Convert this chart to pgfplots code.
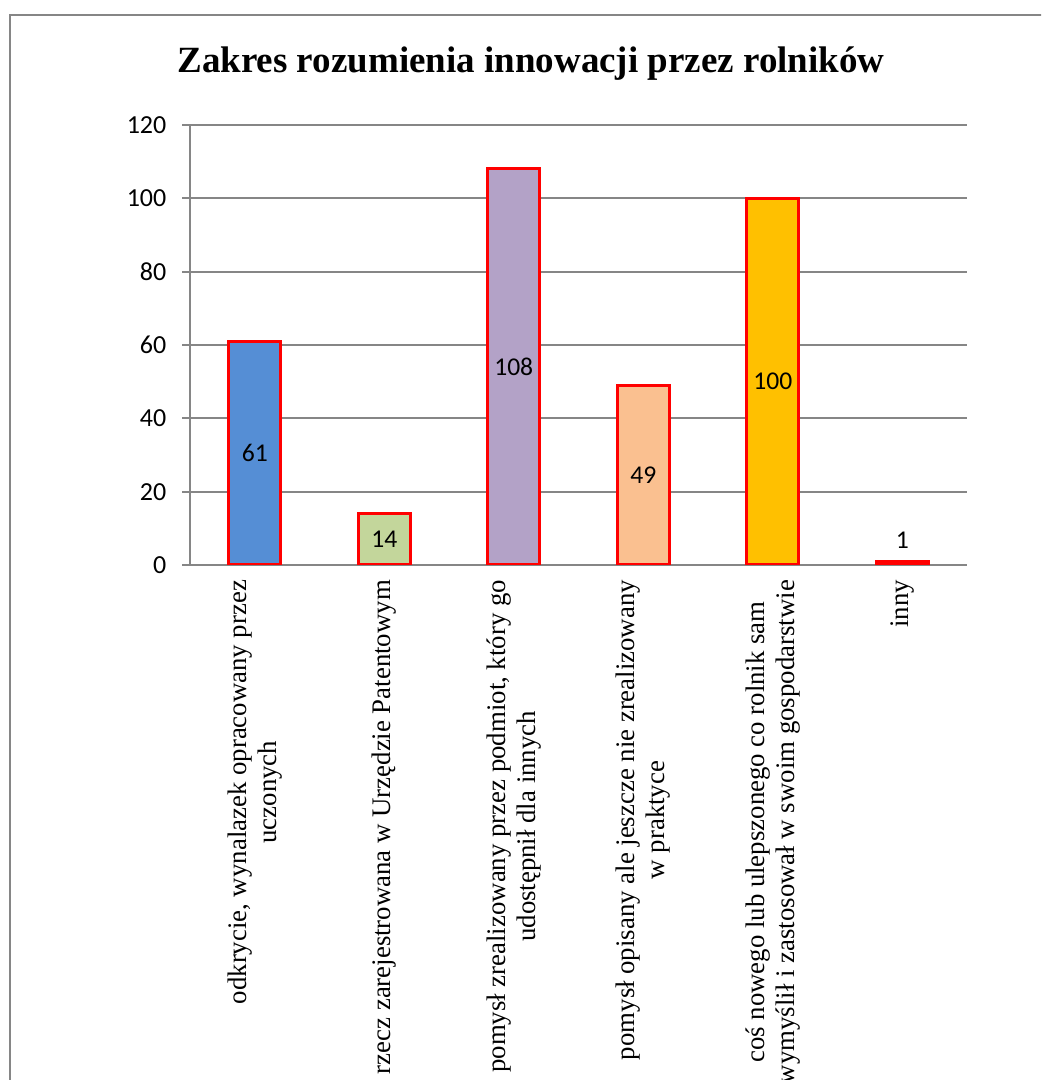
\documentclass[border=0pt]{standalone}
\usepackage{pgfplots}
\pgfplotsset{compat=1.18}
\usepackage{fontspec}
\setmainfont{Liberation Serif}
\newfontfamily\carlito{Carlito}

\definecolor{gridgray}{HTML}{868686}
\definecolor{cblue}{HTML}{558ED5}
\definecolor{cgreen}{HTML}{C3D69B}
\definecolor{cpurple}{HTML}{B3A2C7}
\definecolor{cpeach}{HTML}{FAC090}
\definecolor{cgold}{HTML}{FFC000}

\begin{document}
\begin{tikzpicture}[x=0.5pt, y=0.5pt]
\useasboundingbox (0,0) rectangle (1041,1080);
\clip (0,0) rectangle (1041,1080);
% outer frame (only left and top edges visible)
\draw[gridgray, line width=1.3pt] (10,-20) -- (10,1065) -- (1060,1065);
\node[anchor=base, font=\bfseries\fontsize{18.5}{22}\selectfont] at (531,1007)
  {Zakres rozumienia innowacji przez rolników};

\begin{axis}[
  at={(95pt,257.5pt)}, anchor=south west,
  scale only axis, width=388.5pt, height=220pt,
  xmin=-0.5, xmax=5.5, ymin=0, ymax=120,
  ytick={0,20,...,120},
  xtick={0,...,5},
  xticklabels={
    {odkrycie, wynalazek opracowany przez\\uczonych},
    {rzecz zarejestrowana w Urzędzie Patentowym},
    {pomysł zrealizowany przez podmiot, który go\\udostępnił dla innych},
    {pomysł opisany ale jeszcze nie zrealizowany\\w praktyce},
    {coś nowego lub ulepszonego co rolnik sam\\wymyślił i zastosował w swoim gospodarstwie},
    {inny}},
  minor xtick={-0.5,0.5,...,5.5},
  axis x line*=bottom, axis y line*=left,
  axis line style={draw=gridgray, line width=0.9pt},
  ymajorgrids, major grid style={gridgray, line width=0.9pt},
  tick align=outside, major tick length=4pt, minor tick length=4pt,
  ytick style={gridgray, line width=0.9pt},
  minor x tick style={gridgray, line width=0.9pt},
  xtick style={draw=none},
  /pgf/number format/assume math mode=true,
  yticklabel style={font=\carlito\fontsize{13}{15}\selectfont, xshift=-4.3pt},
  xticklabel style={rotate=90, anchor=east, align=center,
    font=\fontsize{13.4}{15}\selectfont},
  ybar, bar width=26pt, bar shift=0pt,
]
\addplot[fill=cblue, draw=red, line width=1.5pt] coordinates {(0,61)};
\addplot[fill=cgreen, draw=red, line width=1.5pt] coordinates {(1,14)};
\addplot[fill=cpurple, draw=red, line width=1.5pt] coordinates {(2,108)};
\addplot[fill=cpeach, draw=red, line width=1.5pt] coordinates {(3,49)};
\addplot[fill=cgold, draw=red, line width=1.5pt] coordinates {(4,100)};
\addplot[fill=red, draw=red, line width=1.5pt] coordinates {(5,1)};
% value labels
\addplot[draw=none, fill=none, point meta=explicit,
  nodes near coords={\pgfmathprintnumber[assume math mode=true]{\pgfplotspointmeta}},
  every node near coord/.append style={anchor=center, text=black,
    font=\carlito\fontsize{12.8}{15}\selectfont}]
  coordinates {(0,30.5) [61] (1,7) [14] (2,54) [108] (3,24.5) [49] (4,50) [100] (5,6.8) [1]};
\end{axis}
\end{tikzpicture}
\end{document}
